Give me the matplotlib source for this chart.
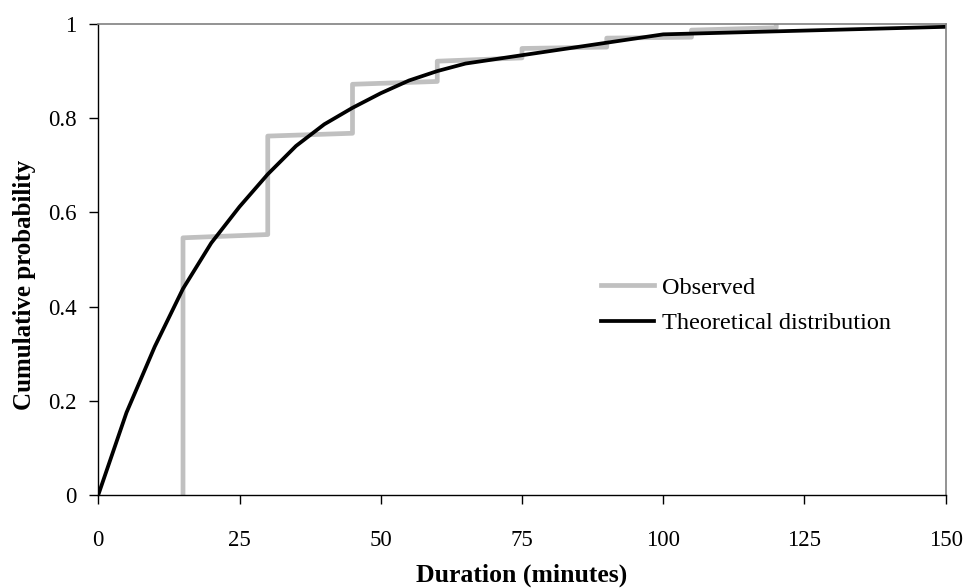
import matplotlib.pyplot as plt

plt.rcParams['font.family'] = ['Liberation Serif', 'DejaVu Serif']

# observed cumulative frequencies (step curve, 15 minute classes)
obs_t = [15, 15, 30, 30, 45, 45, 60, 60, 75, 75, 90, 90, 105, 105, 120, 120]
obs_p = [0, 0.546, 0.553, 0.762, 0.768, 0.872, 0.878, 0.921,
         0.928, 0.948, 0.951, 0.970, 0.972, 0.987, 0.992, 1.0]

# fitted distribution
th_t = [0, 5, 10, 15, 20, 25, 30, 35, 40, 45, 50, 55, 60, 65, 100, 150]
th_p = [0, 0.175, 0.315, 0.438, 0.535, 0.612, 0.681, 0.741,
        0.787, 0.822, 0.853, 0.880, 0.900, 0.916, 0.978, 0.994]

x_ticks = [0, 25, 50, 75, 100, 125, 150]
y_ticks = [0, 0.2, 0.4, 0.6, 0.8, 1]
y_labels = ['0', '0.2', '0.4', '0.6', '0.8', '1']

fig = plt.figure(figsize=(9.69, 5.88), dpi=100)
ax = fig.add_axes([0.1014, 0.1582, 0.8746, 0.8010])

ax.plot(obs_t, obs_p, color='#c0c0c0', lw=3.4, label='Observed')
ax.plot(th_t, th_p, color='black', lw=2.7, label='Theoretical distribution')

ax.set_xlim(0, 150)
ax.set_ylim(0, 1)
ax.set_xticks(x_ticks)
ax.set_yticks(y_ticks)
ax.set_yticklabels(y_labels)
ax.tick_params(direction='out', length=6.5, width=1, labelsize=16.5)
ax.tick_params(axis='x', pad=19)
ax.tick_params(axis='y', pad=9)

for side in ['top', 'right']:
    ax.spines[side].set_color('#808080')
    ax.spines[side].set_linewidth(1.2)
for side in ['left', 'bottom']:
    ax.spines[side].set_color('black')
    ax.spines[side].set_linewidth(1.0)

ax.set_xlabel('Duration (minutes)', fontsize=18.5, fontweight='bold')
ax.set_ylabel('Cumulative probability', fontsize=18, fontweight='bold')
ax.xaxis.set_label_coords(0.5, -0.146)
ax.yaxis.set_label_coords(-0.073, 0.446)

ax.legend(loc='center left', bbox_to_anchor=(0.593, 0.402), frameon=False,
          fontsize=17.5, handlelength=2.2, handletextpad=0.3, labelspacing=0.55,
          borderpad=0, borderaxespad=0)

fig.savefig('out.png', dpi=100)
